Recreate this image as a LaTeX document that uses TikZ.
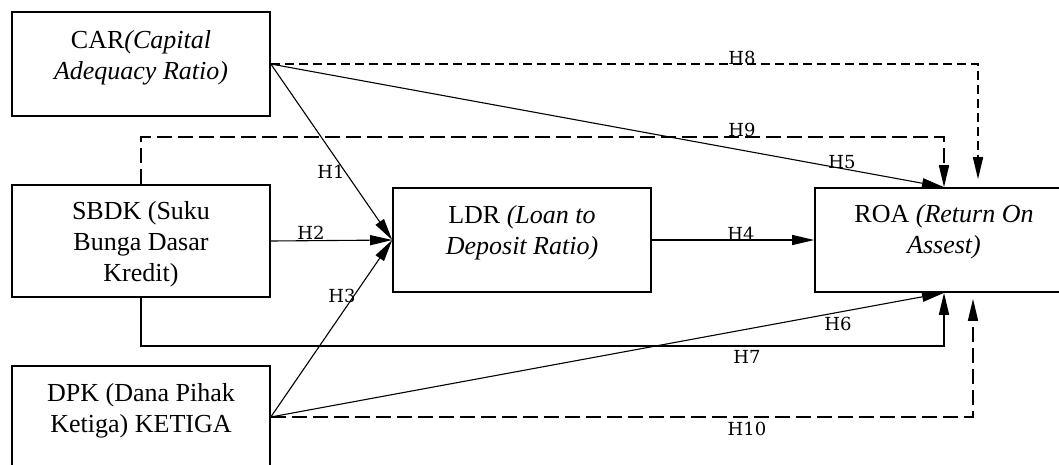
\documentclass[tikz,border=0pt]{standalone}
\usepackage{fontspec}
\setmainfont{Liberation Serif}
\newfontfamily\hfont{DejaVu Serif}
\usetikzlibrary{arrows.meta}
\tikzset{
	varbox/.style={draw, line width=1.6pt, minimum width=258pt, minimum height=104pt, inner sep=0pt},
	vartext/.style={anchor=north, align=center, inner sep=0pt, font=\fontsize{26}{31}\selectfont},
	hyp/.style={line width=1.1pt, -{Triangle[length=22pt,width=10pt]}},
	hypbold/.style={hyp, line width=1.5pt},
	hypdash/.style={hyp, line width=1.6pt, dash pattern=on 15pt off 6pt},
	hypdots/.style={hyp, line width=1.6pt, dash pattern=on 9pt off 5pt},
	hlab/.style={inner sep=0pt, font=\hfont\fontsize{18}{20}\selectfont},
}
\begin{document}
\begin{tikzpicture}[x=1pt,y=-1pt]
\useasboundingbox (0,0) rectangle (1059,464);
\clip (0,0) rectangle (1059,464);
% BOXES
\node[varbox] (car) at (141,64) {};
\node[varbox, minimum height=112pt] (sbdk) at (141,241) {};
\node[varbox, minimum height=102pt] (dpk) at (141,417) {};
\node[varbox] (ldr) at (522,240) {};
\node[varbox] (roa) at (944,240) {};
% TEXTS
\node[vartext] (cartxt) at (car.north) {\rule{0pt}{37pt}CAR\textit{(Capital}\\\textit{Adequacy Ratio)}};
\node[vartext] (sbdktxt) at (sbdk.north) {\rule{0pt}{35pt}SBDK (Suku\\Bunga Dasar\\Kredit)};
\node[vartext] (dpktxt) at (dpk.north) {\rule{0pt}{36pt}DPK (Dana Pihak\\Ketiga) KETIGA};
\node[vartext] (ldrtxt) at (ldr.north) {\rule{0pt}{36pt}LDR \textit{(Loan to}\\\textit{Deposit Ratio)}};
\node[vartext] (roatxt) at (roa.north) {\rule{0pt}{35pt}ROA \textit{(Return On}\\\textit{Assest)}};
% BENDS
\coordinate (h9bend) at (141,137);
\coordinate (h7bend) at (141,346);
\coordinate (h8end) at ([xshift=34pt,yshift=8pt]roa.north);
\coordinate (h10end) at ([xshift=29pt,yshift=-6pt]roa.south);
% SOLID ARROWS
\draw[hyp] (car.east) -- (ldr.west);
\draw[hyp] (sbdk.east) -- (ldr.west);
\draw[hyp] (dpk.east) -- (ldr.west);
\draw[hyp] (ldr.east) -- (roa.west);
\draw[hyp] (car.east) -- (roa.north);
\draw[hyp] (dpk.east) -- (roa.south);
\draw[hypbold] (sbdk.south) -- (h7bend) -| (roa.south);
% DASHED ARROWS
\draw[hypdots] (car.east) -| (h8end);
\draw[hypdash] (sbdk.north) -- (h9bend) -| (roa.north);
\draw[hypdash] (dpk.east) -| (h10end);
% LABELS
\node[hlab] (lh1) at (331,172) {H1};
\node[hlab] (lh2) at (311,233) {H2};
\node[hlab] (lh3) at (342,296) {H3};
\node[hlab] (lh4) at (741,234) {H4};
\node[hlab] (lh5) at (842,162) {H5};
\node[hlab] (lh6) at (838,324) {H6};
\node[hlab] (lh7) at (747,357) {H7};
\node[hlab] (lh8) at (742,58) {H8};
\node[hlab] (lh9) at (742,130) {H9};
\node[hlab] (lh10) at (747,429) {H10};
\end{tikzpicture}
\end{document}
